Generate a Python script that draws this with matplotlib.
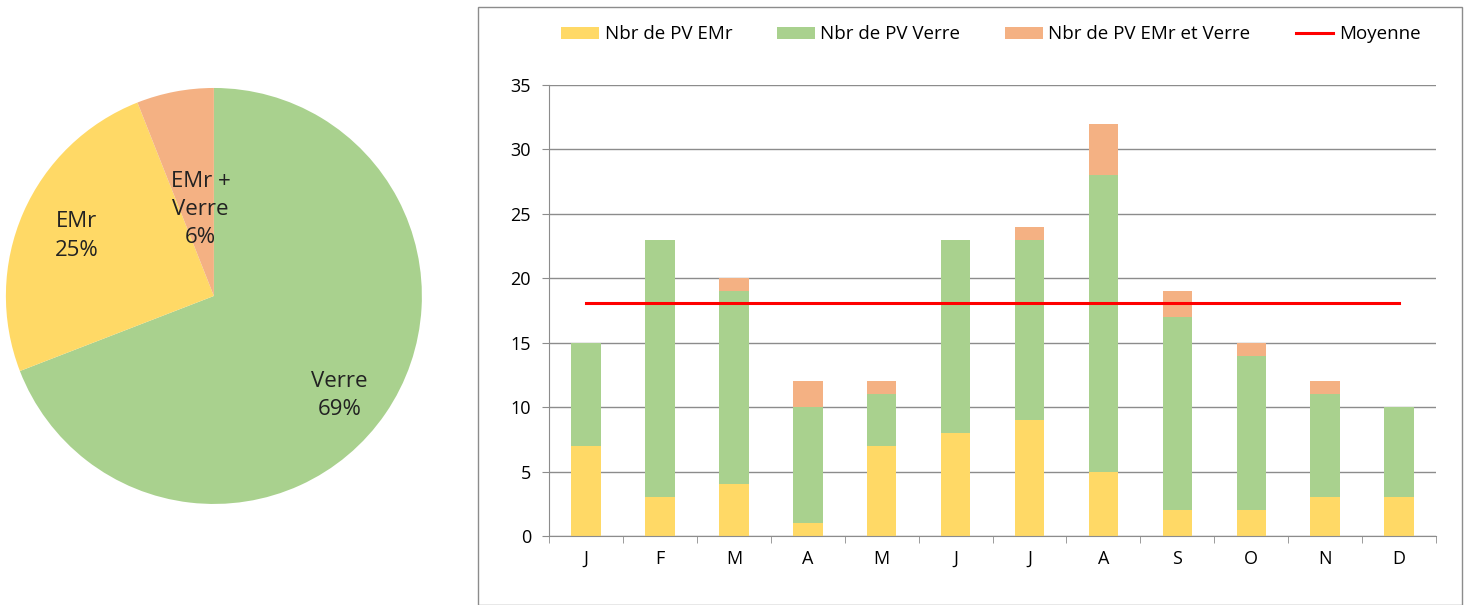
import matplotlib.pyplot as plt
import matplotlib.patches as mpatches
import numpy as np

months = ['J', 'F', 'M', 'A', 'M', 'J', 'J', 'A', 'S', 'O', 'N', 'D']
pv_emr = [7, 3, 4, 1, 7, 8, 9, 5, 2, 2, 3, 3]
pv_verre = [8, 20, 15, 9, 4, 15, 14, 23, 15, 12, 8, 7]
pv_both = [0, 0, 1, 2, 1, 0, 1, 4, 2, 1, 1, 0]

pie_labels = ['Verre', 'EMr', 'EMr +\nVerre']
pie_values = [sum(pv_verre), sum(pv_emr), sum(pv_both)]

c_emr = '#FFD966'
c_verre = '#A9D18E'
c_both = '#F4B183'

plt.rcParams['font.family'] = ['Open Sans', 'DejaVu Sans']

fig = plt.figure(figsize=(14.72, 6.05), dpi=100)

# pie on the left
ax_pie = fig.add_axes([0.004, 0.167, 0.2826, 0.6876])
wedges, _ = ax_pie.pie(pie_values, colors=[c_verre, c_emr, c_both],
                       startangle=90, counterclock=False)
total = sum(pie_values)
# label radius and angle tweak (deg) per wedge
label_r = [0.77, 0.72, 0.42]
label_da = [-4, 0, -2]
for w, lab, v, r, da in zip(wedges, pie_labels, pie_values, label_r, label_da):
    ang = np.deg2rad((w.theta1 + w.theta2) / 2 + da)
    ax_pie.text(r * np.cos(ang), r * np.sin(ang), f"{lab}\n{v / total:.0%}",
                ha='center', va='center', fontsize=16, color='#222222',
                linespacing=1.45)
ax_pie.set_xlim(-1, 1)
ax_pie.set_ylim(-1, 1)
ax_pie.set_aspect('equal')

# frame around the bar chart
fig.patches.append(mpatches.Rectangle((478 / 1472, 0.0), (1462 - 478) / 1472, 1 - 7 / 605,
                                      transform=fig.transFigure, fill=False,
                                      edgecolor='#8c8c8c', linewidth=1))

ax = fig.add_axes([0.373, 0.114, 0.6026, 0.7455])
x = np.arange(len(months))
bw = 0.4
emr = np.array(pv_emr)
verre = np.array(pv_verre)
both = np.array(pv_both)
b1 = ax.bar(x, emr, bw, color=c_emr, label='Nbr de PV EMr', zorder=2)
b2 = ax.bar(x, verre, bw, bottom=emr, color=c_verre, label='Nbr de PV Verre', zorder=2)
b3 = ax.bar(x, both, bw, bottom=emr + verre, color=c_both, label='Nbr de PV EMr et Verre', zorder=2)
mean = (emr + verre + both).mean()
ln, = ax.plot(x, [mean] * len(x), color='#FF0000', linewidth=2.2, label='Moyenne', zorder=3)

ax.set_xlim(-0.5, 11.5)
ax.set_ylim(0, 35)
ax.set_yticks(range(0, 36, 5))
ax.set_xticks(x)
ax.set_xticklabels(months)
ax.set_xticks(np.arange(-0.5, 12, 1), minor=True)
ax.tick_params(axis='x', which='major', length=0, pad=10, labelsize=13)
ax.tick_params(axis='x', which='minor', length=5, color='#8c8c8c', direction='out')
ax.tick_params(axis='y', length=5, color='#8c8c8c', labelsize=13, pad=8)
ax.grid(axis='y', color='#8c8c8c', linewidth=1, zorder=0)
for s in ['top', 'right']:
    ax.spines[s].set_visible(False)
ax.spines['left'].set_color('#8c8c8c')
ax.spines['bottom'].set_color('#8c8c8c')

ax.legend([b1, b2, b3, ln], ['Nbr de PV EMr', 'Nbr de PV Verre', 'Nbr de PV EMr et Verre', 'Moyenne'],
          loc='lower left', bbox_to_anchor=(-0.005, 1.055), ncol=4, frameon=False,
          fontsize=13.5, handlelength=2.0, handleheight=0.6, columnspacing=2.4,
          handletextpad=0.3)

fig.savefig('out.png', dpi=100)
